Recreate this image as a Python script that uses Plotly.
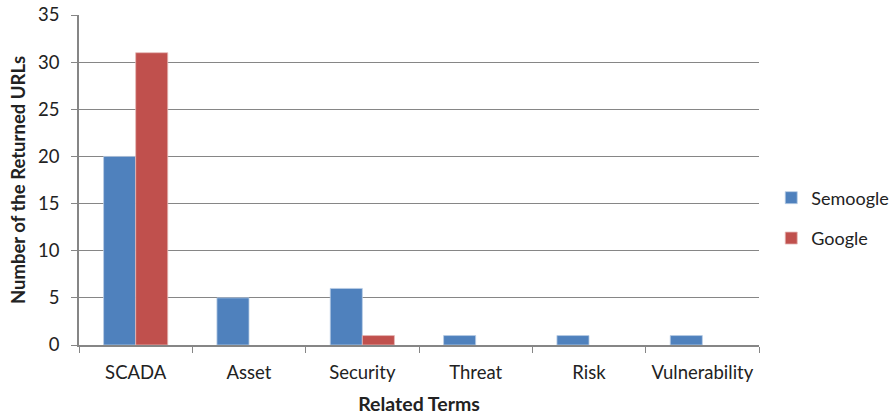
import plotly.graph_objects as go

categories = ["SCADA", "Asset", "Security", "Threat", "Risk", "Vulnerability"]
semoogle = [20, 5, 6, 1, 1, 1]
google = [31, 0, 1, 0, 0, 0]
y_ticks = [0, 5, 10, 15, 20, 25, 30, 35]

FONT = "Lato"
AXIS = "#868686"


def outline(vals):
    return [0.8 if v > 0 else 0 for v in vals]


fig = go.Figure()
fig.add_trace(go.Bar(x=categories, y=semoogle, name="Semoogle", legendgroup="a",
                     marker=dict(color="#4F81BD",
                                 line=dict(color="#B9CDE5", width=outline(semoogle)))))
fig.add_trace(go.Bar(x=categories, y=google, name="Google", legendgroup="b",
                     marker=dict(color="#C0504D",
                                 line=dict(color="#E6B9B8", width=outline(google)))))

fig.update_layout(
    width=896, height=415,
    margin=dict(l=79, r=137, t=15, b=70, autoexpand=False),
    plot_bgcolor="white", paper_bgcolor="white",
    barmode="group", bargap=0.434, bargroupgap=0,
    font=dict(family=FONT, size=18, color="#222222"),
    legend=dict(x=1.018, y=0.385, yanchor="middle", xanchor="left",
                font=dict(size=18), tracegroupgap=14, bgcolor="rgba(0,0,0,0)",
                itemwidth=30),
    xaxis=dict(
        showline=True, linecolor=AXIS, linewidth=1.5,
        ticks="outside", tickson="boundaries", ticklen=6, tickcolor=AXIS,
        tickfont=dict(size=18.5), ticklabelstandoff=10, tickangle=0, automargin=False,
        title=dict(text="<b>Related Terms</b>", font=dict(size=19.5), standoff=15),
    ),
    yaxis=dict(
        range=[0, 35], tickvals=y_ticks,
        showline=True, linecolor=AXIS, linewidth=1.5,
        ticks="outside", ticklen=6, tickcolor=AXIS,
        showgrid=True, gridcolor=AXIS, gridwidth=1,
        tickfont=dict(size=18.5), ticklabelstandoff=8, automargin=False,
        title=dict(text="<b>Number of the Returned URLs</b>", font=dict(size=18.5), standoff=8),
        zeroline=False,
    ),
)

fig.write_html("out.html")
